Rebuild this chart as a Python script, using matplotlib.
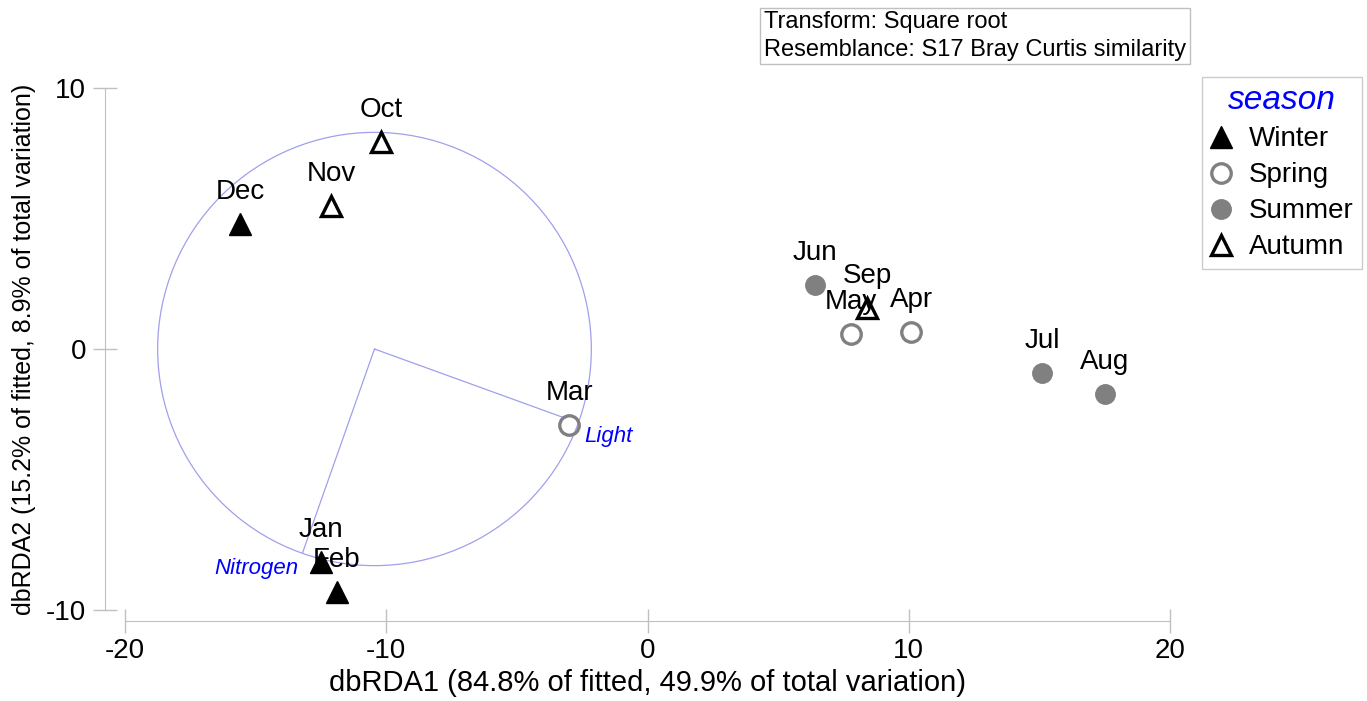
import numpy as np
import matplotlib
matplotlib.use('Agg')
import matplotlib.pyplot as plt
from matplotlib.patches import Circle
from matplotlib.lines import Line2D

plt.rcParams['font.family'] = ['Liberation Sans', 'DejaVu Sans']
plt.rcParams['axes.unicode_minus'] = False

# month scores on dbRDA1 / dbRDA2
months = ['Jan', 'Feb', 'Mar', 'Apr', 'May', 'Jun', 'Jul', 'Aug', 'Sep', 'Oct', 'Nov', 'Dec']
rda1 = [-12.5, -11.9, -3.0, 10.1, 7.8, 6.4, 15.1, 17.5, 8.4, -10.2, -12.1, -15.6]
rda2 = [-8.15, -9.3, -2.9, 0.65, 0.57, 2.45, -0.92, -1.72, 1.57, 7.93, 5.48, 4.79]
season = ['Winter', 'Winter', 'Spring', 'Spring', 'Spring', 'Summer', 'Summer', 'Summer',
          'Autumn', 'Autumn', 'Autumn', 'Winter']

# predictor vectors (end points relative to circle centre)
vec_names = ['Light', 'Nitrogen']
vec_dx = [7.3, -2.75]
vec_dy = [-2.65, -7.8]
circle_x, circle_y, circle_r = -10.45, 0.0, 8.3

seasons = ['Winter', 'Spring', 'Summer', 'Autumn']
styles = {
    'Winter': dict(marker='^', ms=16, mfc='black', mec='black', mew=1),
    'Spring': dict(marker='o', ms=14, mfc='none', mec='#808080', mew=2.4),
    'Summer': dict(marker='o', ms=14, mfc='#808080', mec='#808080', mew=1),
    'Autumn': dict(marker='^', ms=15, mfc='none', mec='black', mew=2.4),
}

fig = plt.figure(figsize=(13.67, 7.01), dpi=100)
ax = fig.add_axes([125/1367, 1 - 610/701, 1045/1367, 522/701])
ax.set_xlim(-20, 20)
ax.set_ylim(-10, 10)

# circle and vectors
ax.add_patch(Circle((circle_x, circle_y), circle_r, fill=False, ec='#a0a0ec', lw=0.9, clip_on=False))
for name, dx, dy in zip(vec_names, vec_dx, vec_dy):
    ax.plot([circle_x, circle_x + dx], [circle_y, circle_y + dy], color='#a0a0ec', lw=0.9, clip_on=False)
ax.text(-2.4, -3.35, 'Light', color='blue', style='italic', fontsize=16,
        ha='left', va='center')
ax.text(-13.35, -8.4, 'Nitrogen', color='blue', style='italic', fontsize=16,
        ha='right', va='center')

# points
for m, x, y, s in zip(months, rda1, rda2, season):
    ax.plot(x, y, linestyle='none', clip_on=False, zorder=3, **styles[s])
    ax.annotate(m, (x, y), xytext=(0, 23), textcoords='offset points', ha='center',
                va='center', fontsize=20, zorder=4, annotation_clip=False)

# axes styling
for side in ['top', 'right']:
    ax.spines[side].set_visible(False)
ax.spines['left'].set_position(('outward', 14.4))
ax.spines['bottom'].set_position(('outward', 8))
ax.spines['left'].set_bounds(-10, 10)
ax.spines['bottom'].set_bounds(-20, 20)
for side in ['left', 'bottom']:
    ax.spines[side].set_color('#c0c0c0')
ax.set_xticks([-20, -10, 0, 10, 20])
ax.set_yticks([-10, 0, 10])
ax.tick_params(direction='inout', length=17, width=1, color='#c0c0c0', labelsize=20, pad=4)
ax.tick_params(axis='y', pad=5)

ax.set_xlabel('dbRDA1 (84.8% of fitted, 49.9% of total variation)', fontsize=21, labelpad=3)
ax.set_ylabel('dbRDA2 (15.2% of fitted, 8.9% of total variation)', fontsize=18, labelpad=7)

# info box
fig.text(764/1367, 1 - 36/701,
         'Transform: Square root\nResemblance: S17 Bray Curtis similarity',
         fontsize=17, va='center', ha='left', linespacing=1.3,
         bbox=dict(boxstyle='square,pad=0.15', fc='white', ec='#c0c0c0', lw=1))

# legend
handles = [Line2D([], [], linestyle='none', **styles[s]) for s in seasons]
leg = fig.legend(handles, seasons, loc='upper right', bbox_to_anchor=(1362/1367, 1 - 77/701),
                 title='season', fontsize=20, title_fontsize=24, frameon=True, fancybox=False,
                 edgecolor='#c0c0c0', handlelength=0.8, handletextpad=0.6, labelspacing=0.36,
                 borderpad=0.3, borderaxespad=0)
leg.get_title().set_color('blue')
leg.get_title().set_style('italic')
leg.get_frame().set_linewidth(1)

fig.savefig('out.png', dpi=100)
